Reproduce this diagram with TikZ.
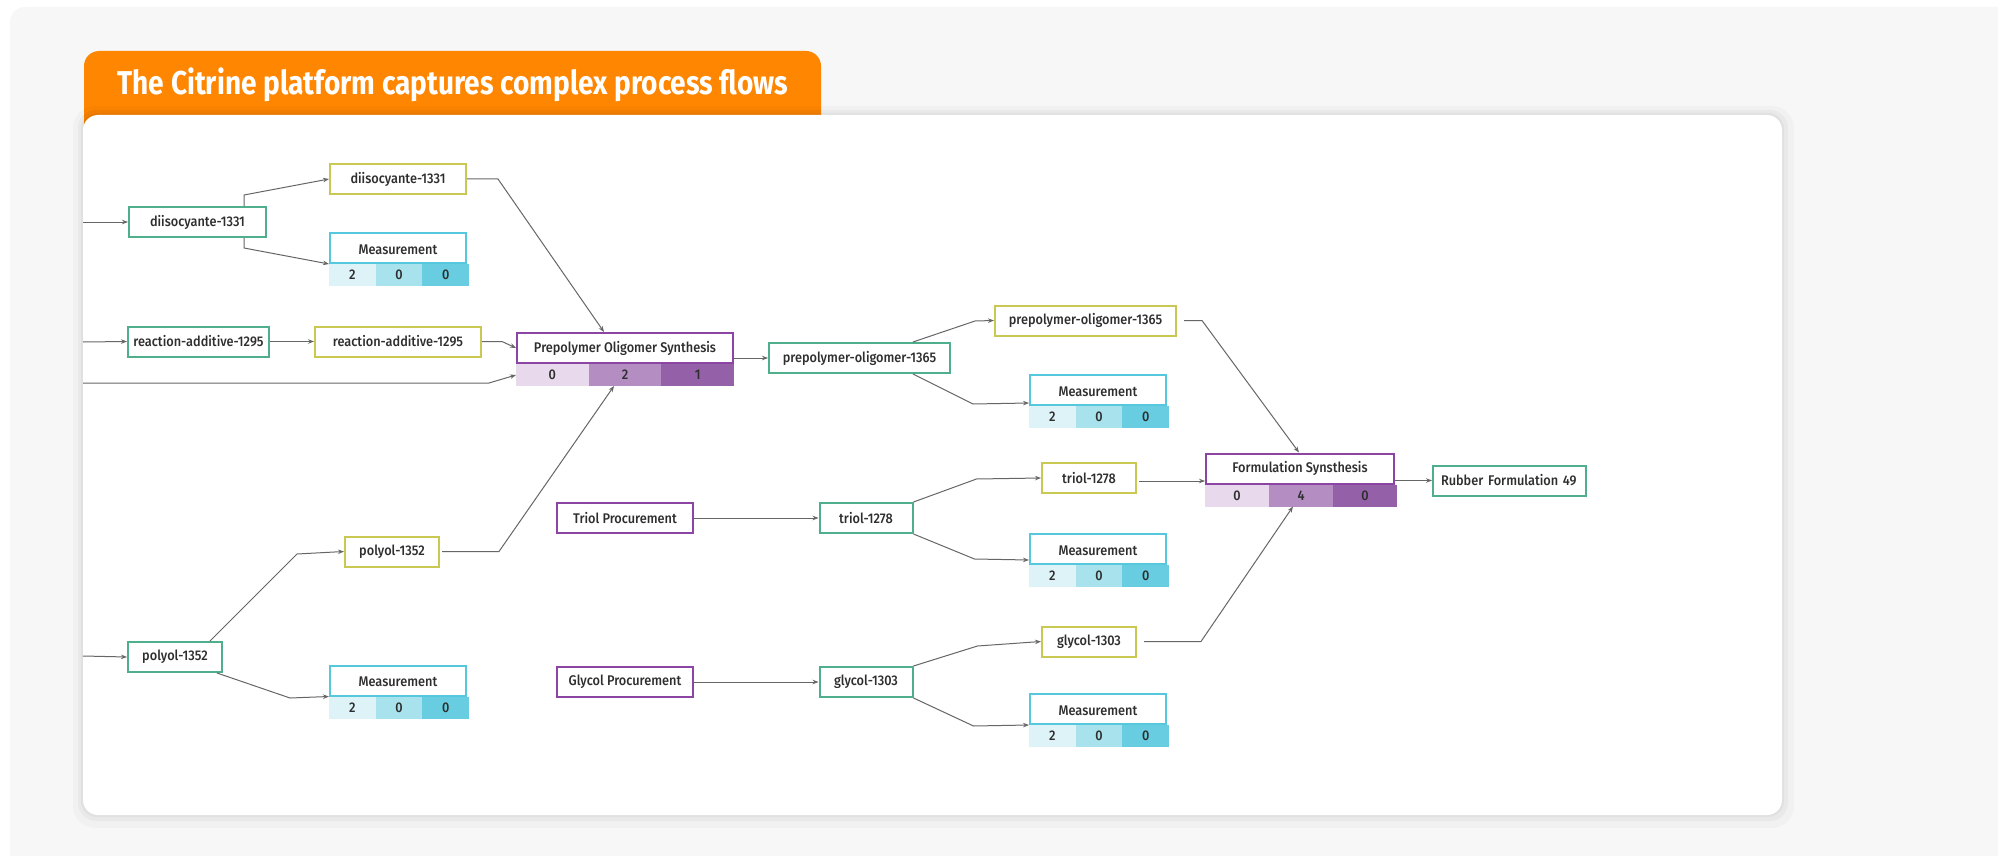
\documentclass[tikz,border=0pt]{standalone}
\usepackage{fontspec}
\setmainfont{Fira Sans}
\IfFontExistsTF{Fira Sans Medium}{%
  \newfontfamily\uifont[FakeStretch=0.91]{Fira Sans Medium}}{%
  \newfontfamily\uifont[FakeStretch=0.91,FakeBold=0.4]{Fira Sans}}
\newfontfamily\titlefont[FakeStretch=0.85]{Fira Sans}
\usetikzlibrary{positioning,arrows.meta,calc}

\definecolor{pagegray}{HTML}{F7F7F7}
\definecolor{tabor}{HTML}{FF8600}
\definecolor{matgreen}{HTML}{4FAE8C}
\definecolor{ingyellow}{HTML}{C9C852}
\definecolor{meascyan}{HTML}{56C8DD}
\definecolor{procpurple}{HTML}{8C45A3}
\definecolor{measA}{HTML}{DDF3F7}
\definecolor{measB}{HTML}{A8E2EC}
\definecolor{measC}{HTML}{68CDE0}
\definecolor{procA}{HTML}{E8DAEC}
\definecolor{procB}{HTML}{B48EC3}
\definecolor{procC}{HTML}{9460A7}
\definecolor{edgegray}{HTML}{666666}
\definecolor{textgray}{HTML}{2E2E2E}

% three count cells under a measurement or process box
\newcommand{\countrow}[6]{%
  \node[cell, minimum width=#3, fill=#2A, anchor=north west] (#1-a) at (#1.south west) {#4};
  \node[cell, minimum width=#3, fill=#2B, right=0pt of #1-a] (#1-b) {#5};
  \node[cell, minimum width=#3, fill=#2C, right=0pt of #1-b] (#1-c) {#6};
}

\begin{document}
\begin{tikzpicture}[
  x=1pt, y=-1pt,
  box/.style={draw, line width=2pt, fill=white, minimum height=30pt, inner sep=0pt,
    font=\uifont\fontsize{14}{16}\selectfont, text=textgray},
  mat/.style={box, draw=matgreen},
  ing/.style={box, draw=ingyellow},
  meas/.style={box, draw=meascyan, minimum width=136pt, text height=12pt, text depth=-2pt},
  proc/.style={box, draw=procpurple},
  cell/.style={minimum height=22pt, inner sep=0pt, outer sep=0pt,
    font=\uifont\fontsize{14}{16}\selectfont, text=textgray},
  edge/.style={draw=edgegray, line width=1pt, -{Stealth[length=6pt,width=4.5pt]}}
]
  \useasboundingbox (0,0) rectangle (1998,856);
  \fill[white] (0,0) rectangle (1998,856);
  \fill[pagegray, rounded corners=15pt] (10,7) rectangle (2040,900);

  % title tab and card
  \fill[tabor, rounded corners=15pt] (84,51) rectangle (821,140);
  \node[anchor=base, text=white, font=\titlefont\bfseries\fontsize{33}{36}\selectfont]
    (title) at (453,95) {The Citrine platform captures complex process flows};
  \fill[black, opacity=0.025, rounded corners=22pt] (73,106) rectangle (1794,828);
  \fill[black, opacity=0.03, rounded corners=18pt] (78,110) rectangle (1788,821);
  \fill[black, opacity=0.035, rounded corners=16pt] (81,113) rectangle (1784,817);
  \fill[white, rounded corners=15pt] (83,115) rectangle (1782,815);

  % left column
  \node[mat, minimum width=137pt] (dg) at (197.5,222) {diisocyante-1331};
  \node[ing, minimum width=136pt] (dy) at (398,179) {diisocyante-1331};
  \node[meas] (dm) at (398,248) {Measurement};
  \countrow{dm}{meas}{46.67pt}{2}{0}{0}
  \node[mat, minimum width=141pt] (rg) at (198.5,341.5) {reaction-additive-1295};
  \node[ing, minimum width=166pt] (ry) at (398,341.5) {reaction-additive-1295};
  \node[mat, minimum width=94pt] (polg) at (175,657) {polyol-1352};
  \node[ing, minimum width=94pt] (poly) at (392,551.5) {polyol-1352};
  \node[meas] (polm) at (398,680.5) {Measurement};
  \countrow{polm}{meas}{46.67pt}{2}{0}{0}

  \node[proc, minimum width=216pt] (prep) at (625,348) {Prepolymer Oligomer Synthesis};
  \countrow{prep}{proc}{72.67pt}{0}{2}{1}

  % middle column
  \node[mat, minimum width=181pt] (pg) at (859.5,358) {prepolymer-oligomer-1365};
  \node[ing, minimum width=181pt] (py) at (1085.5,320.5) {prepolymer-oligomer-1365};
  \node[meas] (pm) at (1098,390) {Measurement};
  \countrow{pm}{meas}{46.67pt}{2}{0}{0}
  \node[proc, minimum width=136pt] (tp) at (625,518) {Triol Procurement};
  \node[mat, minimum width=93pt] (tg) at (866,518) {triol-1278};
  \node[ing, minimum width=94pt] (ty) at (1089,478) {triol-1278};
  \node[meas] (tm) at (1098,549) {Measurement};
  \countrow{tm}{meas}{46.67pt}{2}{0}{0}
  \node[proc, minimum width=136pt] (gp) at (625,682) {Glycol Procurement};
  \node[mat, minimum width=93pt] (gg) at (866,682) {glycol-1303};
  \node[ing, minimum width=94pt] (gy) at (1089,641.5) {glycol-1303};
  \node[meas] (gm) at (1098,709) {Measurement};
  \countrow{gm}{meas}{46.67pt}{2}{0}{0}

  % right column
  \node[proc, minimum width=188pt] (form) at (1300,468.5) {Formulation Synsthesis};
  \countrow{form}{proc}{64pt}{0}{4}{0}
  \node[mat, text width=137pt, inner xsep=8pt, align=left] (rub) at (1509.5,480.5)
    {Rubber Formulation 49};

  % loose ends at the card edge
  \coordinate (in-dg) at (83,222);
  \coordinate (in-rg) at (83,342);
  \coordinate (in-prep) at (83,383);
  \coordinate (in-polg) at (83,656);

  \draw[edge] (in-dg) -- (dg.west);
  \draw[edge] ([xshift=-23pt]dg.north east) -- ++(0,-11) -- (dy.west);
  \draw[edge] ([xshift=-23pt]dg.south east) -- ++(0,10) -- (dm.south west);
  \draw[edge] (dy.east) -- ++(31,0) -- ([xshift=-21pt]prep.north);
  \draw[edge] (in-rg) -- (rg.west);
  \draw[edge] (rg.east) -- (ry.west);
  \draw[edge] (ry.east) -- ++(20,0) -- (prep.west);
  \draw[edge] (in-prep) -- ++(406,0) -- (prep-a.west);
  \draw[edge] (in-polg) -- (polg.west);
  \draw[edge] ([xshift=-13pt]polg.north east) -- ++(87,-87) -- (poly.west);
  \draw[edge] ([xshift=-6pt]polg.south east) -- ++(73,25) -- (polm.south west);
  \draw[edge] ([xshift=2pt]poly.east) -- ++(57,0) -- ([xshift=-11pt]prep-b.south);

  \draw[edge] (prep.east |- pg.west) -- (pg.west);
  \draw[edge] ([xshift=-38pt]pg.north east) -- ++(62,-21) -- (py.west);
  \draw[edge] ([xshift=-38pt]pg.south east) -- ++(60,30) -- ([yshift=3pt]pm.south west);
  \draw[edge] ([xshift=7pt]py.east) -- ++(18,0) -- ([xshift=-1pt]form.north);

  \draw[edge] (tp.east) -- (tg.west);
  \draw[edge] (tg.north east) -- ++(63,-23) -- (ty.west);
  \draw[edge] (tg.south east) -- ++(61,25) -- ([yshift=5pt]tm.south west);
  \draw[edge] ([xshift=2pt,yshift=-3pt]ty.east) -- ([yshift=-3pt]ty.east -| form.west);

  \draw[edge] (gp.east) -- (gg.west);
  \draw[edge] (gg.north east) -- ++(64,-20) -- (gy.west);
  \draw[edge] (gg.south east) -- ++(60,28) -- (gm.south west);
  \draw[edge] ([xshift=7pt]gy.east) -- ++(57,0) -- ([xshift=-8pt]form-b.south);

  \draw[edge] (form.east |- rub.west) -- (rub.west);
\end{tikzpicture}
\end{document}
